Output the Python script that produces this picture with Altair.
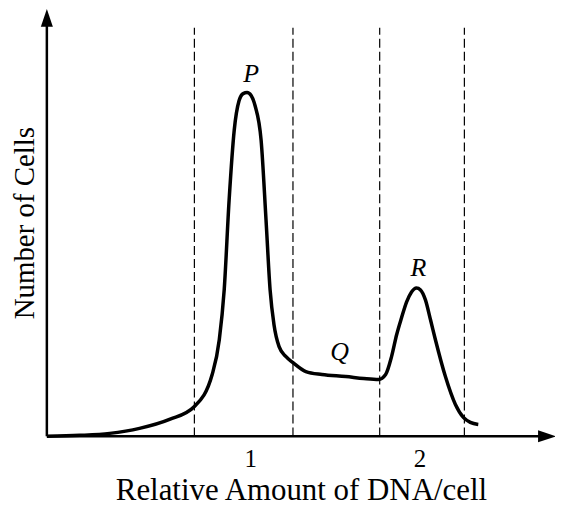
import altair as alt
import pandas as pd

# Curve: relative DNA amount vs number of cells (arbitrary units)
dna = [-0.2, -0.006, 0.171, 0.347, 0.524, 0.671, 0.776, 0.818, 0.847, 0.876, 0.906,
       0.935, 0.959, 0.982, 1.006, 1.029, 1.065, 1.094, 1.118, 1.141, 1.171, 1.212,
       1.253, 1.329, 1.424, 1.565, 1.671, 1.759, 1.8, 1.835, 1.865, 1.894, 1.924,
       1.953, 1.982, 2.006, 2.035, 2.065, 2.094, 2.153, 2.212, 2.259, 2.3, 2.347]
cells = [0, 1, 3, 8, 17, 30, 62, 97, 147, 237, 307,
         337, 344, 345, 342, 332, 297, 217, 147, 112, 90, 80,
         74, 65, 62, 60, 58, 57, 62, 80, 102, 119, 135,
         145, 149, 147, 137, 117, 97, 60, 32, 19, 14, 12]

# dashed boundaries
bounds = [0.671, 1.253, 1.765, 2.265]
bound_top = 410

# peak labels
lab_text = ["P", "Q", "R"]
lab_x = [1.006, 1.529, 1.994]
lab_y = [364, 85, 169]

tick_vals = [1, 2]
x_min, x_max = -0.2, 2.8
y_max = 429

curve = pd.DataFrame({"x": dna, "y": cells})
bdf = pd.DataFrame({"x": bounds, "y0": [0] * len(bounds), "y1": [bound_top] * len(bounds)})
ldf = pd.DataFrame({"t": lab_text, "x": lab_x, "y": lab_y})

xs = alt.Scale(domain=[x_min, x_max], nice=False, zero=False)
ys = alt.Scale(domain=[0, y_max], nice=False, zero=False)

serif = "Liberation Serif"

xax = alt.Axis(values=tick_vals, ticks=False, domain=False, grid=False, labelFont=serif,
               labelFontSize=25, labelColor="black", labelPadding=10, format="d",
               title="Relative Amount of DNA/cell", titleFont=serif, titleFontSize=31,
               titleFontWeight="normal", titleColor="black", titlePadding=4)
yax = alt.Axis(labels=False, ticks=False, domain=False, grid=False,
               title="Number of Cells", titleFont=serif, titleFontSize=29,
               titleFontWeight="normal", titleColor="black", titlePadding=7)

base_line = alt.Chart(curve).mark_line(color="black", strokeWidth=3.5, interpolate="monotone").encode(
    x=alt.X("x:Q", scale=xs, axis=xax),
    y=alt.Y("y:Q", scale=ys, axis=yax),
)

dashes = alt.Chart(bdf).mark_rule(color="black", strokeWidth=1.2, strokeDash=[9, 4]).encode(
    x=alt.X("x:Q", scale=xs), y=alt.Y("y0:Q", scale=ys), y2="y1:Q"
)

axis_df = pd.DataFrame({"x0": [x_min, x_min], "x1": [x_min, 2.74], "y0": [0, 0], "y1": [418, 0]})
axes = alt.Chart(axis_df).mark_rule(color="black", strokeWidth=2.5).encode(
    x=alt.X("x0:Q", scale=xs), x2="x1:Q", y=alt.Y("y0:Q", scale=ys), y2="y1:Q"
)

up_df = pd.DataFrame({"x": [x_min], "y": [420]})
arrow_up = alt.Chart(up_df).mark_point(
    shape="M0,-1L-0.67,1L0.67,1Z", size=324, filled=True, color="black", opacity=1
).encode(x=alt.X("x:Q", scale=xs), y=alt.Y("y:Q", scale=ys))

rt_df = pd.DataFrame({"x": [2.753], "y": [0]})
arrow_rt = alt.Chart(rt_df).mark_point(
    shape="M1,0L-1,-0.67L-1,0.67Z", size=324, filled=True, color="black", opacity=1
).encode(x=alt.X("x:Q", scale=xs), y=alt.Y("y:Q", scale=ys))

labels = alt.Chart(ldf).mark_text(font=serif, fontSize=26, fontStyle="italic", color="black").encode(
    x=alt.X("x:Q", scale=xs), y=alt.Y("y:Q", scale=ys), text="t:N"
)

chart = alt.layer(base_line, dashes, axes, arrow_up, arrow_rt, labels).properties(
    width=510, height=429,
    autosize=alt.AutoSizeParams(type="none"),
    padding={"left": 39, "top": 0, "right": 0, "bottom": 75},
    background="white",
).configure_view(stroke=None)

chart.save("out.html", embed_options={"renderer": "svg", "actions": False})
